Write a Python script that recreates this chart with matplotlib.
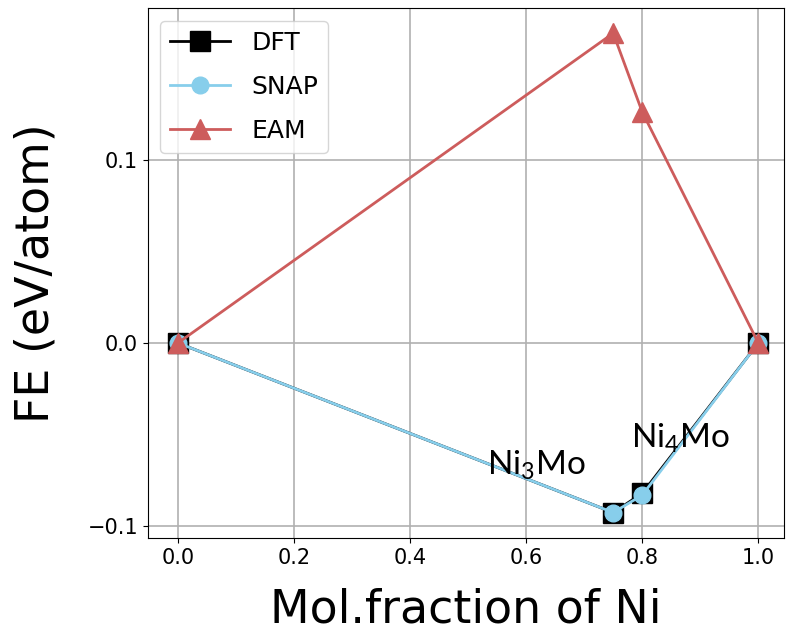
import matplotlib
matplotlib.use('Agg')
import matplotlib.pyplot as plt

X_FRAC = [0.0, 0.75, 0.8, 1.0]
FE_DFT = [0.0, -0.0925, -0.0820, 0.0]
FE_SNAP = [0.0, -0.0925, -0.0830, 0.0]
FE_EAM = [0.0, 0.169, 0.126, 0.0]

PHASES = [r'Ni$_3$Mo', r'Ni$_4$Mo']
PHASE_POS = [(0.617, -0.067), (0.865, -0.052)]

plt.rcParams['mathtext.default'] = 'regular'

fig, ax = plt.subplots(figsize=(7.86, 6.35), dpi=100)

ax.plot(X_FRAC, FE_DFT, '-s', color='black', lw=2, ms=14, label='DFT')
ax.plot(X_FRAC, FE_SNAP, '-o', color='skyblue', lw=2, ms=12, label='SNAP')
ax.plot(X_FRAC, FE_EAM, '-^', color='indianred', lw=2, ms=15, label='EAM')

for name, (px, py) in zip(PHASES, PHASE_POS):
    ax.text(px, py, name, fontsize=24, family='Lato', ha='center', va='center')

ax.set_xlim(-0.052, 1.045)
ax.set_ylim(-0.1063, 0.1826)
ax.set_xticks([0.0, 0.2, 0.4, 0.6, 0.8, 1.0])
ax.set_yticks([-0.1, 0.0, 0.1])
ax.tick_params(labelsize=15)
ax.grid(True, color='#b0b0b0', lw=1.2)
ax.set_xlabel('Mol.fraction of Ni', fontsize=33, labelpad=14)
ax.set_ylabel('FE (eV/atom)', fontsize=33)
ax.yaxis.set_label_coords(-0.14, 0.5)
ax.legend(loc='upper left', fontsize=18, labelspacing=0.8,
          handletextpad=0.85, handlelength=2.4)

fig.subplots_adjust(left=0.188, right=0.998, top=0.987, bottom=0.153)
fig.savefig('out.png')
